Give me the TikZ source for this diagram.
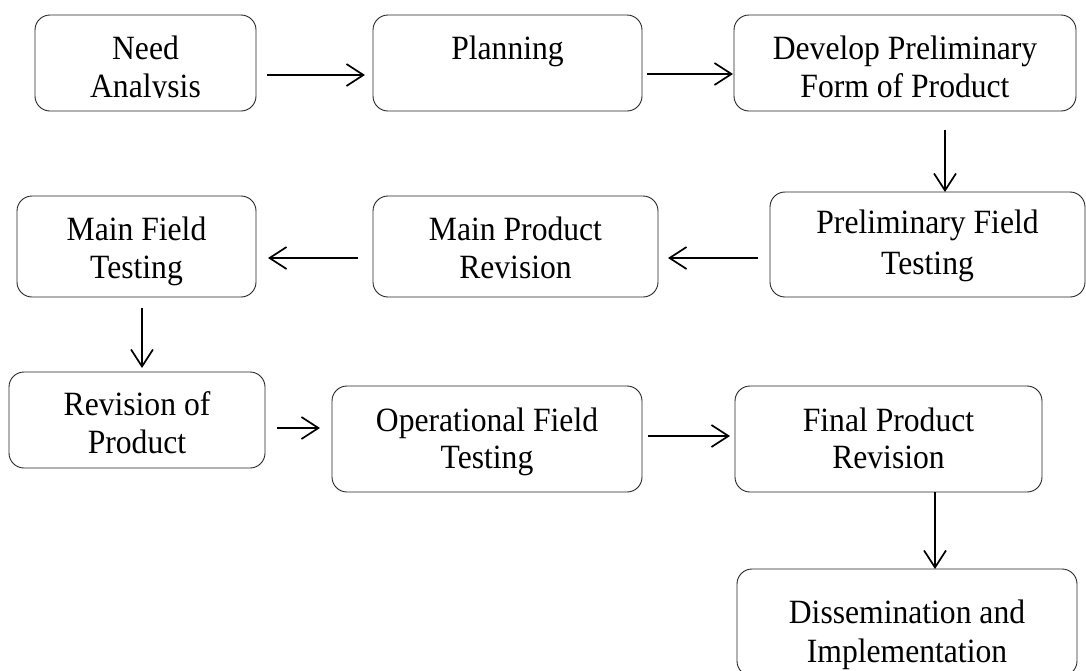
\documentclass[tikz,border=0pt]{standalone}
\usepackage{graphicx}
\usepackage{fontspec}
\setmainfont{Liberation Serif}
\usetikzlibrary{arrows.meta}
\newcommand{\narrowtxt}[1]{\scalebox{0.93}[1]{#1}}
\begin{document}
\begin{tikzpicture}[x=1pt,y=-1pt,
  box/.style={draw=black!85,line width=0.9pt,rounded corners=15pt,outer sep=0pt,inner sep=0pt},
  txt/.style={anchor=base,inner sep=0pt,font=\fontsize{34}{40}\selectfont},
  arr/.style={line width=1.7pt,-{Straight Barb[length=17pt,width=22pt,line width=1.7pt]}}]
\useasboundingbox[fill=white] (0,0) rectangle (1086,670);
% boxes
\node[box,minimum width=221pt,minimum height=96pt] (need) at (145.5,63) {};
\node[box,minimum width=269pt,minimum height=96pt] (plan) at (507.5,63) {};
\node[box,minimum width=342pt,minimum height=96pt] (dev) at (905,63) {};
\node[box,minimum width=315pt,minimum height=105pt] (prelim) at (927.5,244.5) {};
\node[box,minimum width=285pt,minimum height=101pt] (mainrev) at (515.5,246.5) {};
\node[box,minimum width=239pt,minimum height=101pt] (mainfield) at (136.5,246.5) {};
\node[box,minimum width=256pt,minimum height=96pt] (revprod) at (137,420) {};
\node[box,minimum width=310pt,minimum height=106pt] (oper) at (487,439) {};
\node[box,minimum width=307pt,minimum height=106pt] (final) at (888.5,439) {};
\node[box,minimum width=340pt,minimum height=107pt] (dissem) at (907,622.5) {};
% texts
\node[txt] (needA) at (145.5,59) {\narrowtxt{Need}};
\begin{scope}
\clip (35,15) rectangle (256,97.5);
\node[txt] (needB) at (145.5,97) {\narrowtxt{Analysis}};
\end{scope}
\node[txt] (planA) at (507.5,59) {\narrowtxt{Planning}};
\node[txt] (devA) at (905,59) {\narrowtxt{Develop Preliminary}};
\node[txt] (devB) at (905,97) {\narrowtxt{Form of Product}};
\node[txt] (prelimA) at (927.5,233) {\narrowtxt{Preliminary Field}};
\node[txt] (prelimB) at (927.5,274) {\narrowtxt{Testing}};
\node[txt] (mainrevA) at (515.5,240) {\narrowtxt{Main Product}};
\node[txt] (mainrevB) at (515.5,278) {\narrowtxt{Revision}};
\node[txt] (mainfieldA) at (136.5,240) {\narrowtxt{Main Field}};
\node[txt] (mainfieldB) at (136.5,278) {\narrowtxt{Testing}};
\node[txt] (revprodA) at (137,415) {\narrowtxt{Revision of}};
\node[txt] (revprodB) at (137,453) {\narrowtxt{Product}};
\node[txt] (operA) at (487,431) {\narrowtxt{Operational Field}};
\node[txt] (operB) at (487,468) {\narrowtxt{Testing}};
\node[txt] (finalA) at (888.5,431) {\narrowtxt{Final Product}};
\node[txt] (finalB) at (888.5,468) {\narrowtxt{Revision}};
\node[txt] (dissemA) at (907,623) {\narrowtxt{Dissemination and}};
\node[txt] (dissemB) at (907,662) {\narrowtxt{Implementation}};
% connectors
\draw[arr] ([xshift=11pt,yshift=-12pt]need.east) -- ([xshift=-8pt,yshift=-12pt]plan.west);
\draw[arr] ([xshift=5pt,yshift=-11pt]plan.east) -- ([xshift=-1pt,yshift=-11pt]dev.west);
\draw[arr] ([xshift=40pt,yshift=-19pt]dev.south) -- ([xshift=17.5pt]prelim.north);
\draw[arr] ([xshift=-12pt,yshift=-13.5pt]prelim.west) -- ([xshift=10pt,yshift=-11.5pt]mainrev.east);
\draw[arr] ([xshift=-15pt,yshift=-11.5pt]mainrev.west) -- ([xshift=12pt,yshift=-11.5pt]mainfield.east);
\draw[arr] ([xshift=5.5pt,yshift=-11pt]mainfield.south) -- ([xshift=5pt,yshift=4pt]revprod.north);
\draw[arr] ([xshift=12pt,yshift=-8pt]revprod.east) -- ([xshift=-12pt,yshift=11pt]oper.west);
\draw[arr] ([xshift=6pt,yshift=3pt]oper.east) -- ([xshift=-5pt,yshift=3pt]final.west);
\draw[arr] ([xshift=46.5pt]final.south) -- ([xshift=28pt]dissem.north);
\end{tikzpicture}
\end{document}
